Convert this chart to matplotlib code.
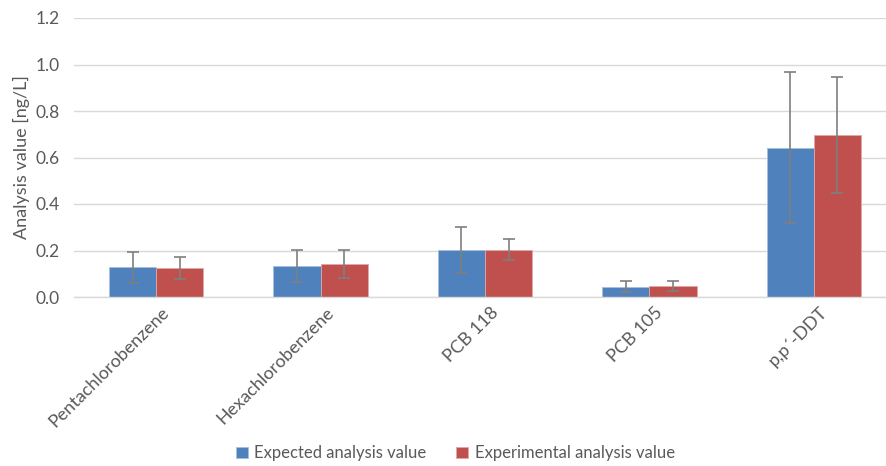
import matplotlib.pyplot as plt
import numpy as np

plt.rcParams['font.family'] = ['Lato', 'DejaVu Sans']

compounds = ['Pentachlorobenzene', 'Hexachlorobenzene', 'PCB 118', 'PCB 105', 'p,p\u00b4-DDT']
expected = [0.127, 0.134, 0.202, 0.045, 0.643]
expected_err = [0.065, 0.068, 0.100, 0.025, 0.323]
experimental = [0.124, 0.142, 0.203, 0.046, 0.698]
experimental_err = [0.048, 0.062, 0.045, 0.022, 0.249]

blue = '#4F81BD'
red = '#C0504D'
text_color = '#595959'

fig = plt.figure(figsize=(8.86, 4.66), dpi=100)
ax = fig.add_axes([74 / 886, (466 - 297) / 466, 822 / 886, 279 / 466])

x = np.arange(len(compounds))
w = 0.287
err_kw = dict(ecolor='#7F7F7F', elinewidth=1.2, capsize=4, capthick=1.2)
ax.bar(x - w / 2, expected, w, color=blue, edgecolor='#A6BFDE', linewidth=0.6,
       yerr=expected_err, error_kw=err_kw, label='Expected analysis value', zorder=2)
ax.bar(x + w / 2, experimental, w, color=red, edgecolor='#E0A8A6', linewidth=0.6,
       yerr=experimental_err, error_kw=err_kw, label='Experimental analysis value', zorder=2)

ax.set_xlim(-0.5, len(compounds) - 0.5)
ax.set_ylim(0, 1.2)
ax.set_yticks(np.arange(0, 1.21, 0.2))
ax.set_yticklabels([f'{v:.1f}' for v in np.arange(0, 1.21, 0.2)])
ax.yaxis.grid(True, color='#D9D9D9', linewidth=1, zorder=0)
ax.set_axisbelow(True)
for s in ['top', 'right', 'left']:
    ax.spines[s].set_visible(False)
ax.spines['bottom'].set_color('#D9D9D9')
ax.spines['bottom'].set_linewidth(1)
ax.tick_params(axis='y', length=0, labelsize=12.5, colors=text_color, pad=10)
ax.tick_params(axis='x', length=0, labelsize=13, colors=text_color, pad=5)

ax.set_xticks(x + 0.03)
ax.set_xticklabels(compounds, rotation=45, ha='right', va='top', rotation_mode='anchor')

ax.set_ylabel('Analysis value [ng/L]', fontsize=13, color=text_color, labelpad=4)

leg = fig.legend(loc='lower center', bbox_to_anchor=(0.514, -0.022), ncol=2, frameon=False,
                 fontsize=12, handlelength=0.7, handleheight=0.7, columnspacing=1.8,
                 handletextpad=0.4)
for t in leg.get_texts():
    t.set_color(text_color)

fig.savefig('out.png', dpi=100)
